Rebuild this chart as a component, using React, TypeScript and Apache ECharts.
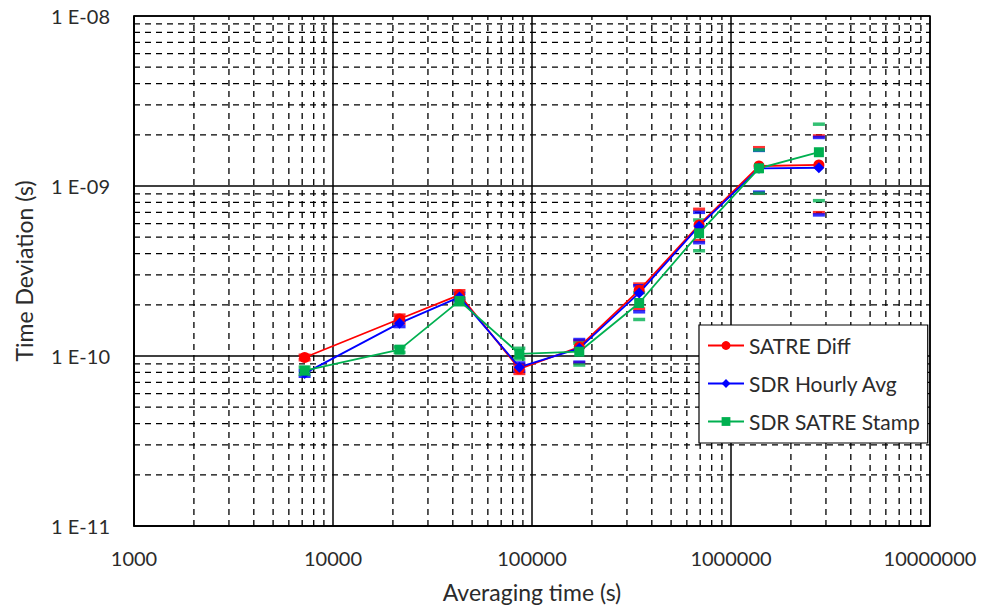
import React, { useEffect, useRef } from 'react';
import * as echarts from 'echarts';

// Averaging time (s)
const tau = [7200, 21600, 43200, 86400, 172800, 345600, 691200, 1382400, 2764800];

// Time deviation (s)
const satreDiff = [9.8e-11, 1.65e-10, 2.29e-10, 8.4e-11, 1.13e-10, 2.44e-10, 5.9e-10, 1.31e-9, 1.33e-9];
const sdrHourly = [7.9e-11, 1.56e-10, 2.22e-10, 8.6e-11, 1.11e-10, 2.35e-10, 5.8e-10, 1.27e-9, 1.28e-9];
const sdrStamp = [8.2e-11, 1.09e-10, 2.11e-10, 1.03e-10, 1.06e-10, 2.05e-10, 5.27e-10, 1.27e-9, 1.58e-9];

// Error bar bounds
const satreUpper = [1.01e-10, 1.74e-10, 2.42e-10, 8.9e-11, 1.23e-10, 2.65e-10, 7.29e-10, 1.68e-9, 1.97e-9];
const satreLower = [9.5e-11, 1.56e-10, 2.17e-10, 7.9e-11, 9.1e-11, 1.89e-10, 4.77e-10, 9.06e-10, 6.97e-10];
const hourlyUpper = [8.2e-11, 1.62e-10, 2.33e-10, 9.1e-11, 1.25e-10, 2.59e-10, 7.0e-10, 1.62e-9, 1.93e-9];
const hourlyLower = [7.6e-11, 1.49e-10, 2.11e-10, 8.16e-11, 9.2e-11, 1.82e-10, 4.64e-10, 9.2e-10, 6.76e-10];
const stampUpper = [8.6e-11, 1.13e-10, 2.2e-10, 1.11e-10, 1.19e-10, 2.36e-10, 6.31e-10, 1.63e-9, 2.31e-9];
const stampLower = [7.8e-11, 1.05e-10, 2.0e-10, 9.6e-11, 8.85e-11, 1.64e-10, 4.16e-10, 9.06e-10, 8.2e-10];

const seriesNames = ['SATRE Diff', 'SDR Hourly Avg', 'SDR SATRE Stamp'];

// Axis ranges and minor grid positions
const xMin = 1000;
const xMax = 10000000;
const yMin = 1e-11;
const yMax = 1e-8;
const minorMultipliers = [2, 3, 4, 5, 6, 7, 8, 9];
const xDecades = [1e3, 1e4, 1e5, 1e6];
const yDecades = [1e-11, 1e-10, 1e-9];

const FONT = 'Lato';
const TEXT = '#2b2b2b';

export default function App() {
  const ref = useRef<HTMLDivElement>(null);

  useEffect(() => {
    const chart = echarts.init(ref.current!, null, { renderer: 'svg' });
    const zip = (ys: number[]) => tau.map((t, i) => [t, ys[i]]);

    // grid line items: [x, y, orientation] (0 = vertical at x, 1 = horizontal at y)
    const gridItems: number[][] = [];
    xDecades.forEach((d) => minorMultipliers.forEach((m) => gridItems.push([d * m, yMin * 2, 0])));
    yDecades.forEach((d) => minorMultipliers.forEach((m) => gridItems.push([xMin * 2, d * m, 1])));

    const colors = ['#FF0000', '#0000FF', '#00B050'];
    const symbols = ['circle', 'diamond', 'rect'];
    const sizes = [11, 11, 10];
    const mains = [satreDiff, sdrHourly, sdrStamp];
    const uppers = [satreUpper, hourlyUpper, stampUpper];
    const lowers = [satreLower, hourlyLower, stampLower];

    const capSeries = mains.map((_, k) => ({
      name: seriesNames[k] + ' err',
      type: 'scatter',
      symbol: 'rect',
      symbolSize: [12, 3.5],
      itemStyle: { color: colors[k] },
      data: [...zip(uppers[k]), ...zip(lowers[k])],
      z: 3,
      silent: true,
    }));

    const lineSeries = mains.map((vals, k) => ({
      name: seriesNames[k],
      type: 'line',
      data: zip(vals),
      symbol: symbols[k],
      symbolSize: sizes[k],
      showSymbol: true,
      color: colors[k],
      itemStyle: { color: colors[k] },
      lineStyle: { color: colors[k], width: 1.8 },
      z: 4,
    }));

    const option: any = {
      animation: false,
      backgroundColor: '#ffffff',
      grid: {
        left: 134,
        right: 55,
        top: 16,
        bottom: 83,
        show: true,
        borderColor: '#000',
        borderWidth: 1.5,
        backgroundColor: '#fff',
      },
      legend: {
        data: seriesNames,
        orient: 'vertical',
        left: 699,
        top: 325,
        backgroundColor: '#fff',
        borderColor: '#000',
        borderWidth: 1.2,
        padding: [10, 8, 11, 8],
        itemGap: 17,
        itemWidth: 36,
        itemHeight: 11,
        textStyle: { fontFamily: FONT, fontSize: 21, color: TEXT, lineHeight: 20 },
      },
      xAxis: {
        type: 'log',
        logBase: 10,
        min: xMin,
        max: xMax,
        name: 'Averaging time (s)',
        nameLocation: 'middle',
        nameGap: 54,
        nameTextStyle: { fontFamily: FONT, fontSize: 23, color: TEXT },
        axisLine: { show: true, lineStyle: { color: '#000', width: 1.5 } },
        axisTick: { show: false },
        splitLine: { show: true, lineStyle: { color: '#000', width: 1.5, type: 'solid' } },
        axisLabel: {
          fontFamily: FONT,
          fontSize: 20,
          color: TEXT,
          margin: 22,
          formatter: (v: number) => String(Math.round(v)),
        },
      },
      yAxis: {
        type: 'log',
        logBase: 10,
        min: yMin,
        max: yMax,
        name: 'Time Deviation (s)',
        nameLocation: 'middle',
        nameGap: 99,
        nameTextStyle: { fontFamily: FONT, fontSize: 23, color: TEXT },
        axisLine: { show: true, lineStyle: { color: '#000', width: 1.5 } },
        axisTick: { show: false },
        splitLine: { show: true, lineStyle: { color: '#000', width: 1.5, type: 'solid' } },
        axisLabel: {
          fontFamily: FONT,
          fontSize: 20,
          color: TEXT,
          margin: 24,
          formatter: (v: number) => {
            const e = Math.round(-Math.log10(v));
            return '1 E-' + String(e).padStart(2, '0');
          },
        },
      },
      series: [
        {
          name: 'minor grid',
          type: 'custom',
          silent: true,
          z: 1,
          clip: true,
          data: gridItems,
          renderItem: (params: any, api: any) => {
            const x = api.value(0);
            const y = api.value(1);
            const o = api.value(2);
            let p1, p2;
            if (o === 0) {
              p1 = api.coord([x, yMin]);
              p2 = api.coord([x, yMax]);
            } else {
              p1 = api.coord([xMin, y]);
              p2 = api.coord([xMax, y]);
            }
            return {
              type: 'line',
              shape: { x1: p1[0], y1: p1[1], x2: p2[0], y2: p2[1] },
              style: { stroke: '#000', lineWidth: 1.3, lineDash: [6, 5] },
              silent: true,
            };
          },
        },
        ...capSeries,
        ...lineSeries,
      ],
    };

    chart.setOption(option);
    return () => chart.dispose();
  }, []);

  return (
    <div
      ref={ref}
      style={{ position: 'fixed', left: 0, top: 0, width: 985, height: 609, background: '#fff' }}
    />
  );
}
